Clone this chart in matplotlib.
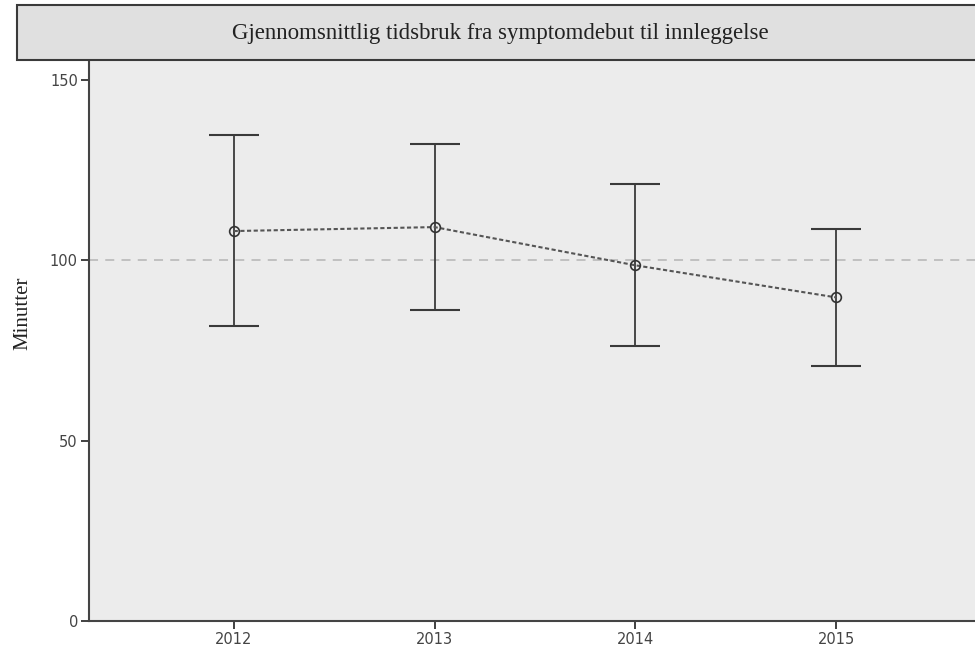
import matplotlib.pyplot as plt
from matplotlib.patches import Rectangle

years = ['2012', '2013', '2014', '2015']
mean_minutes = [108.1, 109.2, 98.6, 89.7]
ci_low = [81.9, 86.1, 76.1, 70.8]
ci_high = [134.7, 132.2, 121.1, 108.6]
ref_level = 100

fig = plt.figure(figsize=(9.75, 6.53), dpi=100)
ax = fig.add_axes([0.0913, 0.049, 0.9087, 0.859])
ax.set_facecolor('#ececec')

xs = list(range(len(years)))
err_lo = [m - l for m, l in zip(mean_minutes, ci_low)]
err_hi = [h - m for m, h in zip(mean_minutes, ci_high)]

ax.axhline(ref_level, color='#bdbdbd', linestyle=(0, (5, 4)), linewidth=1.3, zorder=1)
ax.errorbar(xs, mean_minutes, yerr=[err_lo, err_hi], fmt='none', ecolor='#3a3a3a',
            elinewidth=1.3, capsize=18, capthick=1.5, zorder=2)
ax.plot(xs, mean_minutes, color='#555555', linestyle=(0, (2, 1.2)), linewidth=1.5, zorder=3)
ax.plot(xs, mean_minutes, 'o', markersize=7, markerfacecolor='none',
        markeredgecolor='#333333', markeredgewidth=1.2, zorder=4)

ax.set_xlim(-0.72, 3.69)
ax.set_ylim(0, 155.5)
ax.set_xticks(xs)
ax.set_xticklabels(years)
ax.set_yticks([0, 50, 100, 150])
ax.tick_params(direction='out', length=6, width=1.3, color='#333333',
               labelsize=10.5, labelcolor='#444444', pad=2)

ax.spines['top'].set_visible(False)
ax.spines['right'].set_visible(False)
for side in ['left', 'bottom']:
    ax.spines[side].set_color('#444444')
    ax.spines[side].set_linewidth(1.5)

# y label placed a bit above the axis centre, like the original
fig.text(0.023, 0.52, 'Minutter', rotation=90, ha='center', va='center',
         family='Liberation Serif', fontsize=15, color='#222222')

# title box
box = Rectangle((0.0174, 0.908), 0.99, 0.084, transform=fig.transFigure,
                facecolor='#e0e0e0', edgecolor='#3a3a3a', linewidth=1.5, clip_on=False)
fig.patches.append(box)
fig.text(0.513, 0.949, 'Gjennomsnittlig tidsbruk fra symptomdebut til innleggelse',
         ha='center', va='center', fontsize=16.5, family='Liberation Serif', color='#222222')

fig.savefig('out.png', dpi=100)
